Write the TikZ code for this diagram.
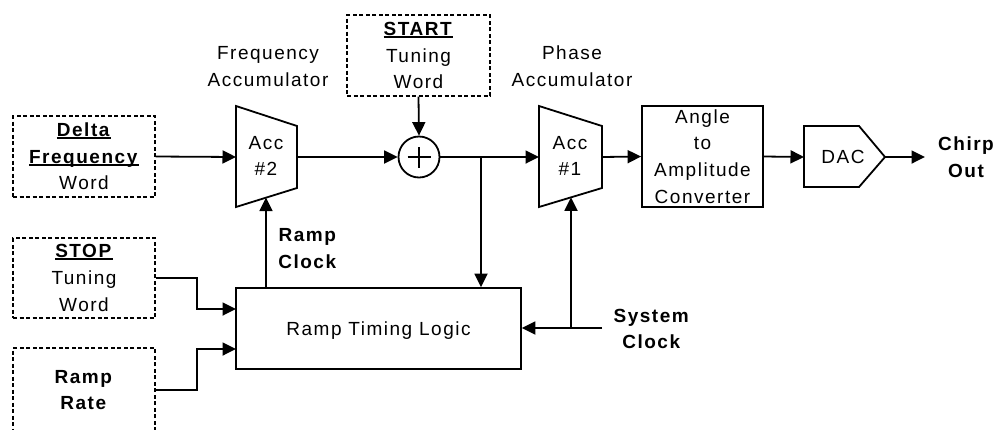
\documentclass[tikz,border=0pt]{standalone}
\usepackage{fontspec}
\setmainfont{Liberation Sans}[LetterSpace=8]
\usetikzlibrary{arrows.meta}
\newcommand\myul[1]{\setbox0\hbox{#1}\rlap{\rule[-2.3pt]{\wd0}{1.8pt}}\box0}
\begin{document}
\begin{tikzpicture}[x=1pt,y=-1pt,
  font=\fontsize{19}{26.7}\selectfont, line width=1.8pt,
  arr/.style={-{Triangle[length=13.5pt,width=13pt]}},
  dbox/.style={draw, dash pattern=on 4pt off 2.5pt, line width=1.4pt,
    minimum width=142pt, minimum height=81pt, inner sep=0pt, align=center},
  sbox/.style={draw, inner sep=0pt, align=center},
  lbl/.style={align=center, inner sep=0pt}]
\useasboundingbox (0,0) rectangle (996,429);
\clip (0,0) rectangle (996,429);

% input boxes
\node[dbox] (delta) at (84,156.5) {\myul{\textbf{Delta}}\\\myul{\textbf{Frequency}}\\Word};
\node[dbox, minimum height=80pt] (stop) at (84,278) {\myul{\textbf{STOP}}\\Tuning\\Word};
\node[dbox, minimum height=84pt] (rate) at (84,390) {\textbf{Ramp}\\\textbf{Rate}};
\node[dbox, minimum width=143pt] (start) at (418.5,55.5) {\myul{\textbf{START}}\\Tuning\\Word};

% labels
\node[lbl] (falbl) at (268,66.5) {Frequency\\Accumulator};
\node[lbl] (palbl) at (572,66.5) {Phase\\Accumulator};

% Acc #2
\coordinate (a2tl) at (236,106); \coordinate (a2tr) at (297,126);
\coordinate (a2br) at (297,188); \coordinate (a2bl) at (236,207);
\draw (a2tl) -- (a2tr) -- (a2br) -- (a2bl) -- cycle;
\node[lbl] (acc2) at (266,156) {Acc\\\#2};
\coordinate (a2in) at (236,157); \coordinate (a2out) at (297,157);
\coordinate (a2bot) at (266,197.6);

% Acc #1
\coordinate (a1tl) at (539,106); \coordinate (a1tr) at (602,126);
\coordinate (a1br) at (602,188); \coordinate (a1bl) at (539,207);
\draw (a1tl) -- (a1tr) -- (a1br) -- (a1bl) -- cycle;
\node[lbl] (acc1) at (570,156) {Acc\\\#1};
\coordinate (a1in) at (539,157); \coordinate (a1out) at (602,157);
\coordinate (a1bot) at (571,197.3);

% adder
\node[draw, circle, minimum size=41pt, inner sep=0pt] (sum) at (419,157) {};
\draw[line width=1.4pt] ([xshift=-11.5pt]sum.center) -- ([xshift=11.5pt]sum.center);
\draw[line width=1.4pt] ([yshift=-10.5pt]sum.center) -- ([yshift=10.5pt]sum.center);

% angle to amplitude
\node[sbox, minimum width=121pt, minimum height=101pt] (ang) at (702.5,156.5)
  {Angle\\to\\Amplitude\\Converter};

% DAC
\coordinate (d1) at (804,126); \coordinate (d2) at (859,126);
\coordinate (dactip) at (885,157); \coordinate (d4) at (859,187);
\coordinate (d5) at (804,187);
\draw (d1) -- (d2) -- (dactip) -- (d4) -- (d5) -- cycle;
\node[lbl] (dac) at (843,157) {DAC};
\coordinate (dacin) at (804,157);
\coordinate (chirpend) at (925,157);
\node[lbl, font=\fontsize{19}{26.7}\selectfont\bfseries] (chirp) at (966,157) {Chirp\\Out};

% ramp timing logic
\node[sbox, minimum width=285pt, minimum height=81pt, text height=14pt, text depth=0pt]
  (rtl) at (378.5,328.5) {Ramp Timing Logic};
\node[lbl] (rclk) at (308,248.5) {\textbf{Ramp}\\\textbf{Clock}};
\node[lbl] (sclk) at (652,329) {\textbf{System}\\\textbf{Clock}};
\coordinate (rtlin1) at (236,309);
\coordinate (rtlin2) at (236,349);
\coordinate (br) at (481,157);
\coordinate (sysin) at (602,328);
\coordinate (sysbr) at (571,328);

% connectors
\draw[arr] (delta.east) -- (a2in);
\draw[arr] (a2out) -- (sum.west);
\draw[arr] (start.south) -- (sum.north);
\draw[arr] (sum.east) -- (a1in);
\draw[arr] (br) -- (br |- rtl.north);
\draw[arr] (a1out) -- (ang.west);
\draw[arr] (ang.east) -- (dacin);
\draw[arr] (dactip) -- (chirpend);
\draw[arr] (stop.east) -- ++(41,0) |- (rtlin1);
\draw[arr] (rate.east) -- ++(41,0) |- (rtlin2);
\draw[arr] (rtl.north -| a2bot) -- (a2bot);
\draw[arr] (sysin) -- (rtl.east |- sysin);
\draw[arr] (sysbr) -- (a1bot);
\end{tikzpicture}
\end{document}
